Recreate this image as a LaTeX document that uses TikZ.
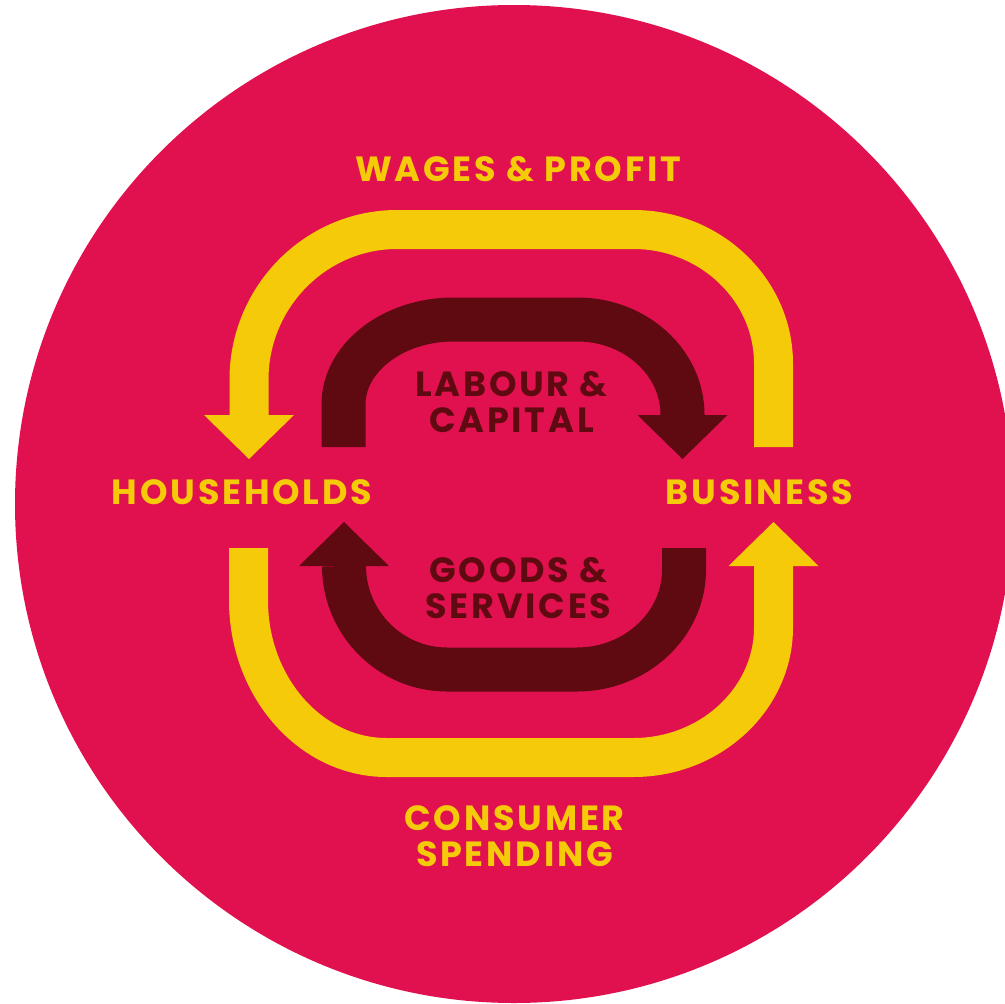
\documentclass[tikz,border=0pt]{standalone}
\usepackage{fontspec}
\setmainfont{Poppins}[LetterSpace=8]
\usepackage{tikz}
\usetikzlibrary{arrows.meta}
\definecolor{discred}{HTML}{E1114F}
\definecolor{flowgold}{HTML}{F5CA09}
\definecolor{flowdark}{HTML}{5E0A10}
\tikzstyle{sector} = [font=\bfseries\fontsize{35}{36}\selectfont, text=flowgold, align=center, inner sep=0pt]
\tikzstyle{good} = [font=\bfseries\fontsize{35}{36}\selectfont, text=flowdark, align=center, inner sep=0pt]
\tikzstyle{money} = [draw=flowgold, line width=39pt, -{Triangle[width=90pt,length=44pt,line width=0pt]}]
\tikzstyle{real} = [draw=flowdark, line width=44pt, -{Triangle[width=90pt,length=44pt,line width=0pt]}]

\begin{document}
\begin{tikzpicture}[x=1pt, y=-1pt]
\useasboundingbox (0,0) rectangle (1005,1004);
\clip (0,0) rectangle (1005,1004);
\fill [discred] (514,504) circle (499);

\node (households) [sector, anchor=base] at (242,504) {HOUSEHOLDS};
\node (business) [sector, anchor=base] at (759.5,504) {BUSINESS};
\node (wages) [sector, anchor=base] at (518,181) {WAGES \& PROFIT};
\node (spending) [sector] at (514.5,836) {CONSUMER\\SPENDING};
\node (labour) [good] at (511.5,402.5) {LABOUR \&\\CAPITAL};
\node (goods) [good] at (518.5,588) {GOODS \&\\SERVICES};

\coordinate (wagesin) at (773.5,447);
\coordinate (wagesout) at (249,459);
\coordinate (spendin) at (248.5,548);
\coordinate (spendout) at (773.5,522);
\coordinate (labourin) at (343.5,447);
\coordinate (labourout) at (682.5,459);
\coordinate (goodsin) at (684,548);
\coordinate (goodsout) at (344,522);

% money goes round the outside
\draw [money] (wagesin) -- (773.5,363.5) .. controls (773.5,289.8) and (710.5,229.5) .. (633.5,229.5)
  -- (397,229.5) .. controls (315.6,229.5) and (249,297) .. (249,379.5) -- (wagesout);
\draw [money] (spendin) -- (248.5,600.5) .. controls (248.5,686.9) and (310.6,757.5) .. (386.5,757.5)
  -- (633.5,757.5) .. controls (710.5,757.5) and (773.5,699) .. (773.5,627.5) -- (spendout);

% real flows on the inside
\draw [real] (labourin) -- (343.5,404.5) .. controls (343.5,357.75) and (393,319.5) .. (453.5,319.5)
  -- (577.5,319.5) .. controls (635.25,319.5) and (682.5,362.25) .. (682.5,414.5) -- (labourout);
\draw [real] (goodsin) -- (684,570) .. controls (684,624.7) and (635.85,669.5) .. (577,669.5)
  -- (447,669.5) .. controls (390.35,669.5) and (344,622.9) .. (344,566) -- (goodsout);

\end{tikzpicture}
\end{document}
